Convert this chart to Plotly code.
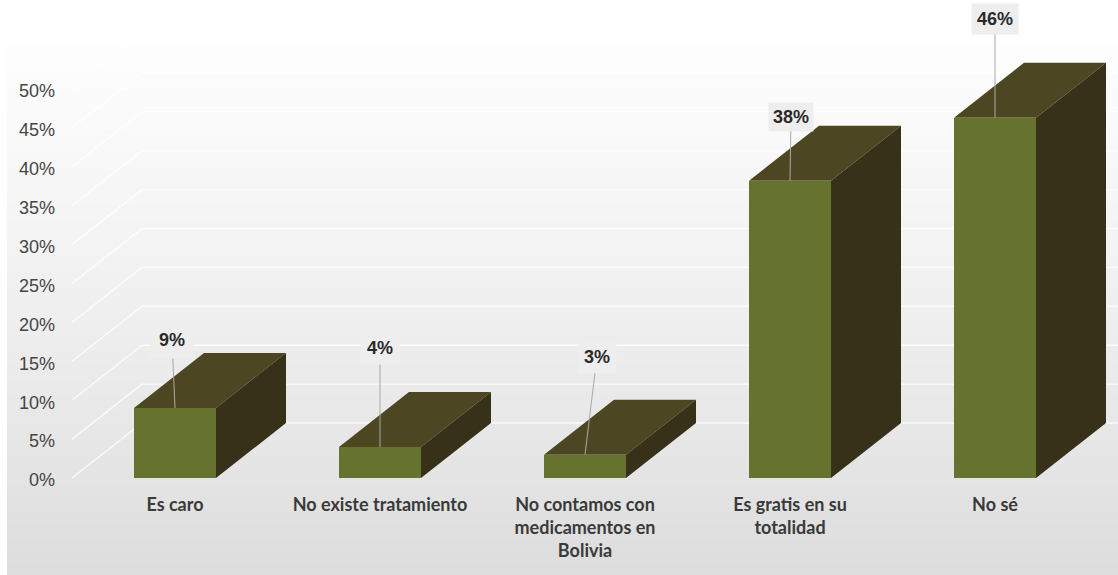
import plotly.graph_objects as go

categories = ["Es caro", "No existe tratamiento", "No contamos con<br>medicamentos en<br>Bolivia",
              "Es gratis en su<br>totalidad", "No sé"]
values = [9, 4, 3, 38.2, 46.3]
value_labels = ["9%", "4%", "3%", "38%", "46%"]
y_ticks = [0, 5, 10, 15, 20, 25, 30, 35, 40, 45, 50]
y_tick_labels = ["0%", "5%", "10%", "15%", "20%", "25%", "30%", "35%", "40%", "45%", "50%"]
positions = [0, 1, 2, 3, 4]

# leader-line offsets of each label, in pixels
label_dx = [-3, 0, 12, 1, 0]
label_dy = [-68, -99, -98, -64, -99]
label_pad = [8, 6, 6, 4, 5]

W, H = 1118, 575
ML, MB = 58, 97
PX_PER_CAT = 205.0
PX_PER_PCT = 7.78
X0_PX = 175.0
xmin = (ML - X0_PX) / PX_PER_CAT
xmax = (W - X0_PX) / PX_PER_CAT
ymax = (H - MB) / PX_PER_PCT

BAR_W = 82 / PX_PER_CAT
DX = 70 / PX_PER_CAT          # oblique depth of the fake 3D
DY = 55 / PX_PER_PCT
GRID_X0 = (72 - X0_PX) / PX_PER_CAT

FRONT, TOP, SIDE = "#66732f", "#4c4722", "#37311a"

shapes = []
# page background: soft vertical gradient white -> light grey
N = 115
plot_h = H - MB
plot_w = W - ML
for i in range(N):
    t0, t1 = i / N, (i + 1) / N
    g = int(round(255 - 34 * t1 ** 1.25))
    shapes.append(dict(type="rect", xref="paper", yref="paper", layer="below",
                       x0=(7 - ML) / plot_w, x1=1,
                       y1=(H * (1 - t0) - MB) / plot_h, y0=(H * (1 - t1) - MB) / plot_h,
                       fillcolor=f"rgb({g},{g},{g})", line=dict(width=0)))
# oblique gridlines
for t in y_ticks:
    for a, b, c, d in [(GRID_X0, t, GRID_X0 + DX, t + DY), (GRID_X0 + DX, t + DY, xmax, t + DY)]:
        shapes.append(dict(type="line", xref="x", yref="y", layer="below", x0=a, y0=b, x1=c, y1=d,
                           line=dict(color="rgba(255,255,255,0.8)", width=1.4)))

fig = go.Figure()
fig.add_trace(go.Bar(x=positions, y=values, width=BAR_W, marker=dict(color=FRONT, line=dict(width=0)),
                     showlegend=False, hoverinfo="skip"))

top_x, top_y, side_x, side_y = [], [], [], []
for p, v in zip(positions, values):
    l, r = p - BAR_W / 2, p + BAR_W / 2
    top_x += [l, r, r + DX, l + DX, l, None]
    top_y += [v, v, v + DY, v + DY, v, None]
    side_x += [r, r + DX, r + DX, r, r, None]
    side_y += [0, DY, v + DY, v, 0, None]
fig.add_trace(go.Scatter(x=top_x, y=top_y, mode="lines", fill="toself", fillcolor=TOP,
                         line=dict(width=0, color=TOP), showlegend=False, hoverinfo="skip"))
fig.add_trace(go.Scatter(x=side_x, y=side_y, mode="lines", fill="toself", fillcolor=SIDE,
                         line=dict(width=0, color=SIDE), showlegend=False, hoverinfo="skip"))

annotations = []
for p, v, s, ax, ay, pad in zip(positions, values, value_labels, label_dx, label_dy, label_pad):
    annotations.append(dict(x=p, y=v, xref="x", yref="y", text=f"<b>{s}</b>", showarrow=True,
                            arrowhead=0, arrowwidth=1, arrowcolor="#a8a8a8", ax=ax, ay=ay,
                            axref="pixel", ayref="pixel", bgcolor="#eeeeee", borderpad=pad,
                            font=dict(family="Liberation Sans", size=18, color="#2a2a2a")))

fig.update_layout(
    width=W, height=H, autosize=False,
    margin=dict(l=ML, r=0, t=0, b=MB, pad=0),
    paper_bgcolor="white", plot_bgcolor="rgba(0,0,0,0)",
    shapes=shapes, annotations=annotations, showlegend=False, bargap=0,
    xaxis=dict(range=[xmin, xmax], tickmode="array", tickvals=positions, ticktext=categories,
               showgrid=False, zeroline=False, showline=False, ticks="outside", ticklen=10,
               tickcolor="rgba(0,0,0,0)", tickangle=0, fixedrange=True,
               tickfont=dict(family="Lato", size=18, color="#3a3a3a", weight="bold")),
    yaxis=dict(range=[0, ymax], tickmode="array", tickvals=y_ticks, ticktext=y_tick_labels,
               showgrid=False, zeroline=False, showline=False, ticks="", fixedrange=True,
               ticklabelstandoff=2, ticklabelshift=2,
               tickfont=dict(family="Liberation Sans", size=18, color="#454545")),
)
fig.write_html("out.html", config=dict(displayModeBar=False),
               post_script="document.body.style.margin='0';document.documentElement.style.overflow='hidden';")
